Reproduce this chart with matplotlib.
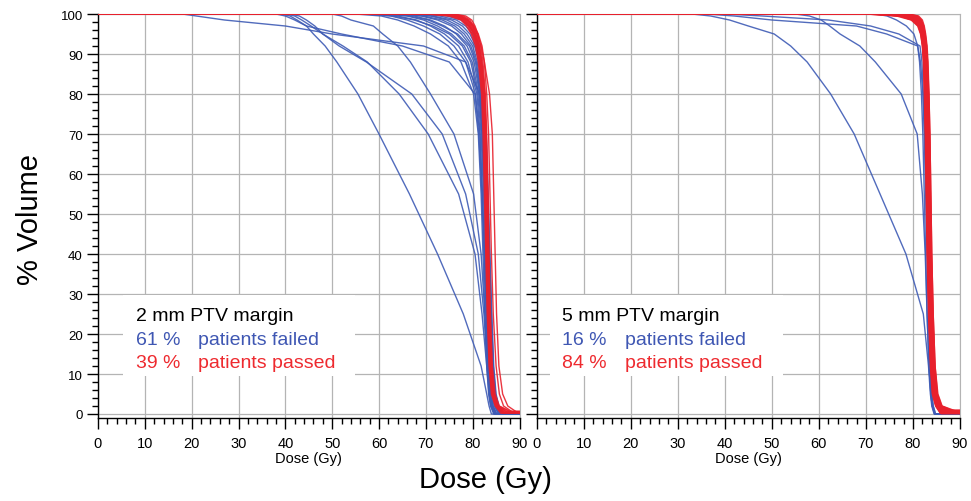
"""DVH comparison: 2 mm vs 5 mm PTV margin, failed (blue) vs passed (red) patients."""
import matplotlib
matplotlib.use("Agg")
import matplotlib.pyplot as plt
from matplotlib.patches import Rectangle
from matplotlib.ticker import MultipleLocator

plt.rcParams["font.family"] = ["Liberation Sans", "DejaVu Sans"]

BLUE = "#3e5bb5"
RED = "#e8202c"
BLUE_TXT = "#3f57b3"
RED_TXT = "#ee2a2f"
NARROW = ["Liberation Sans Narrow", "Liberation Sans", "DejaVu Sans"]

VOL_LEVELS = [100, 99.5, 98.5, 97, 95, 92, 88, 80, 70, 55, 40, 25, 12, 5, 2]

# ---- 2 mm margin: failed patients (dose in Gy at each VOL_LEVEL)
LEFT_BLUE_DOSE = [
    [39, 41.0, 42.5, 44.5, 46.0, 48.5, 51.0, 55.5, 60.0, 66.5, 72.5, 78.0, 81.8, 83.0, 83.5],
    [18, 21.0, 27.0, 40.0, 50.0, 69.5, 78.5, 81.5, 82.0, 82.5, 83.0, 83.3, 83.7, 84.0, 84.3],
    [38, 40.0, 42.0, 44.5, 52.0, 65.0, 75.0, 80.5, 81.3, 82.0, 82.6, 83.0, 83.4, 83.8, 84.2],
    [50, 52.0, 54.0, 58.8, 60.8, 64.0, 66.7, 71.0, 76.0, 80.2, 81.8, 82.6, 83.2, 83.7, 84.2],
    [40, 42.0, 43.5, 45.5, 48.0, 51.5, 57.3, 67.0, 73.5, 78.5, 81.2, 82.4, 83.1, 83.6, 84.0],
    [41, 43.0, 44.5, 46.3, 48.0, 52.3, 57.5, 64.3, 70.5, 77.0, 80.5, 82.0, 83.0, 83.5, 83.9],
    [55, 60.5, 64.0, 67.5, 71.0, 74.8, 77.5, 80.2, 81.2, 81.8, 82.2, 82.6, 83.0, 83.4, 83.8],
    [58, 62.5, 66.0, 69.5, 73.0, 76.0, 78.5, 80.6, 81.5, 82.0, 82.4, 82.8, 83.2, 83.6, 84.0],
    [60, 64.0, 68.0, 71.0, 74.0, 77.0, 79.0, 80.9, 81.6, 82.1, 82.5, 82.9, 83.3, 83.7, 84.1],
    [57, 63.0, 67.5, 71.5, 75.0, 77.8, 79.6, 81.1, 81.8, 82.3, 82.7, 83.1, 83.5, 83.9, 84.4],
    [62, 66.0, 69.5, 72.5, 75.5, 78.2, 79.9, 81.3, 82.0, 82.5, 82.9, 83.3, 83.7, 84.1, 84.6],
    [63, 67.5, 71.0, 74.0, 76.5, 78.8, 80.3, 81.5, 82.1, 82.6, 83.0, 83.4, 83.8, 84.2, 84.8],
    [61, 66.5, 70.5, 73.5, 76.8, 79.3, 80.6, 81.6, 82.2, 82.7, 83.1, 83.5, 83.9, 84.3, 84.9],
    [65, 69.0, 72.5, 75.5, 77.6, 79.6, 80.8, 81.7, 82.3, 82.8, 83.2, 83.6, 84.0, 84.4, 85.0],
    [64, 69.5, 73.5, 76.2, 78.2, 80.0, 81.0, 81.8, 82.4, 82.9, 83.3, 83.7, 84.1, 84.6, 85.2],
    [67, 71.0, 74.5, 77.0, 78.8, 80.4, 81.3, 82.0, 82.5, 83.0, 83.4, 83.8, 84.2, 84.7, 85.3],
    [66, 71.5, 75.5, 77.8, 79.4, 80.7, 81.5, 82.1, 82.6, 83.1, 83.5, 83.9, 84.3, 84.8, 85.4],
    [69, 73.0, 76.5, 78.5, 80.0, 81.0, 81.7, 82.3, 82.8, 83.2, 83.6, 84.0, 84.4, 84.9, 85.5],
    [70, 74.5, 77.5, 79.2, 80.4, 81.3, 81.9, 82.4, 82.9, 83.3, 83.7, 84.1, 84.5, 85.0, 85.6],
]
LEFT_BLUE_END = [84.0, 85.0, 85.0, 85.0, 84.8, 84.6, 84.5, 84.8, 85.0, 85.2, 85.5,
                 85.6, 85.8, 86.0, 86.0, 86.2, 86.4, 86.5, 86.6]
LEFT_BLUE_TAIL = [0.0] * 19

# ---- 2 mm margin: passed patients
LEFT_RED_DOSE = [
    [72, 76.0, 78.0, 79.2, 80.2, 81.0, 81.6, 82.2, 82.5, 82.8, 83.0, 83.3, 83.7, 84.2, 85.0],
    [74, 77.2, 78.8, 79.8, 80.6, 81.3, 81.8, 82.4, 82.7, 83.0, 83.2, 83.5, 83.9, 84.4, 85.3],
    [70, 75.0, 77.5, 78.7, 79.7, 80.6, 81.2, 81.9, 82.2, 82.5, 82.8, 83.1, 83.5, 84.0, 84.8],
    [75, 78.0, 79.4, 80.2, 80.9, 81.5, 82.0, 82.6, 82.9, 83.2, 83.4, 83.7, 84.1, 84.6, 85.5],
    [73, 76.6, 78.4, 79.5, 80.4, 81.1, 81.7, 82.3, 82.6, 82.9, 83.1, 83.4, 83.8, 84.3, 85.1],
    [71, 75.5, 77.8, 79.0, 79.9, 80.8, 81.4, 82.0, 82.4, 82.7, 82.9, 83.2, 83.6, 84.1, 84.9],
    [76, 78.5, 79.8, 80.5, 81.1, 81.7, 82.2, 82.7, 83.0, 83.3, 83.5, 83.8, 84.2, 84.8, 85.7],
    [72, 76.3, 78.2, 79.3, 80.3, 81.0, 81.6, 82.2, 82.5, 82.8, 83.0, 83.3, 83.7, 84.2, 85.0],
    [74, 77.5, 79.0, 80.0, 80.7, 81.4, 81.9, 82.5, 82.8, 83.1, 83.3, 83.6, 84.0, 84.5, 85.4],
    [73, 76.8, 78.6, 79.6, 80.5, 81.2, 81.8, 82.4, 82.7, 83.0, 83.2, 83.5, 83.9, 84.3, 85.2],
    [74, 77.0, 79.0, 80.0, 81.0, 81.8, 82.5, 83.6, 84.2, 84.5, 84.8, 85.1, 85.6, 86.4, 87.5],
    [75, 77.5, 79.0, 80.3, 81.2, 82.0, 82.5, 83.0, 83.4, 83.7, 84.0, 84.4, 85.0, 85.7, 86.6],
]
LEFT_RED_END = [86.8, 87.2, 86.0, 87.8, 86.5, 86.2, 88.0, 86.6, 87.4, 86.9, 89.5, 88.5]
LEFT_RED_TAIL = [0.4, 0.5, 0.2, 0.6, 0.3, 0.3, 0.7, 0.4, 0.5, 0.4, 0.4, 0.5]

# ---- 5 mm margin: failed patients
RIGHT_BLUE_DOSE = [
    [33, 37.0, 41.0, 45.0, 50.5, 54.0, 57.5, 62.5, 67.5, 73.0, 78.5, 82.2, 83.3, 83.7, 84.0],
    [55, 58.0, 60.5, 62.3, 64.5, 68.7, 72.0, 77.5, 80.9, 82.0, 82.6, 83.0, 83.4, 83.8, 84.1],
    [36, 42.0, 50.0, 68.0, 74.4, 81.0, 81.4, 81.8, 82.1, 82.4, 82.7, 83.0, 83.4, 83.8, 84.1],
    [40, 48.0, 62.0, 71.0, 77.0, 81.5, 81.9, 82.2, 82.5, 82.8, 83.1, 83.4, 83.7, 84.0, 84.3],
    [72, 74.5, 76.5, 78.6, 80.2, 81.0, 81.6, 82.1, 82.4, 82.7, 83.0, 83.3, 83.6, 84.0, 84.3],
]
RIGHT_BLUE_END = [84.5, 84.6, 84.6, 84.8, 84.8]
RIGHT_BLUE_TAIL = [0.0] * 5

# ---- 5 mm margin: passed patients
RIGHT_RED_DOSE = [
    [74, 78.5, 80.6, 81.5, 82.0, 82.4, 82.6, 82.9, 83.1, 83.3, 83.5, 83.8, 84.2, 84.7, 85.6],
    [76, 79.8, 81.2, 81.9, 82.3, 82.6, 82.8, 83.0, 83.2, 83.4, 83.6, 83.9, 84.3, 84.8, 85.9],
    [72, 77.5, 80.0, 81.2, 81.8, 82.1, 82.3, 82.5, 82.7, 82.9, 83.1, 83.4, 83.8, 84.3, 85.0],
    [78, 80.5, 81.5, 82.1, 82.5, 82.8, 83.0, 83.2, 83.4, 83.6, 83.8, 84.1, 84.4, 84.9, 85.8],
    [70, 76.5, 79.6, 81.0, 81.6, 82.0, 82.2, 82.4, 82.6, 82.8, 83.0, 83.3, 83.7, 84.1, 84.8],
    [75, 79.0, 80.9, 81.7, 82.1, 82.4, 82.6, 82.8, 83.0, 83.2, 83.4, 83.7, 84.1, 84.6, 85.3],
    [77, 80.2, 81.4, 82.0, 82.4, 82.7, 82.9, 83.1, 83.3, 83.5, 83.7, 84.0, 84.5, 85.0, 86.0],
    [73, 78.0, 80.3, 81.3, 81.9, 82.2, 82.4, 82.7, 82.9, 83.1, 83.3, 83.6, 84.0, 84.4, 85.2],
    [79, 81.0, 81.8, 82.3, 82.6, 82.9, 83.1, 83.3, 83.5, 83.7, 83.9, 84.2, 84.6, 85.1, 85.9],
    [71, 77.0, 79.8, 81.1, 81.7, 82.0, 82.3, 82.6, 82.8, 83.0, 83.2, 83.5, 83.9, 84.3, 85.0],
    [76, 79.5, 81.0, 81.8, 82.2, 82.5, 82.7, 83.0, 83.2, 83.4, 83.6, 83.9, 84.3, 84.8, 85.5],
    [74, 78.8, 80.8, 81.6, 82.0, 82.3, 82.5, 82.7, 82.9, 83.1, 83.3, 83.5, 83.9, 84.4, 85.1],
    [78, 80.6, 81.6, 82.2, 82.6, 82.9, 83.1, 83.4, 83.6, 83.8, 84.0, 84.3, 84.7, 85.3, 86.2],
    [72, 77.8, 80.2, 81.3, 81.8, 82.1, 82.4, 82.6, 82.8, 83.0, 83.2, 83.4, 83.8, 84.2, 84.9],
    [75, 79.2, 81.0, 81.7, 82.1, 82.4, 82.6, 82.8, 83.0, 83.3, 83.5, 83.8, 84.2, 84.6, 85.4],
    [77, 80.0, 81.3, 82.0, 82.4, 82.7, 82.9, 83.2, 83.4, 83.6, 83.8, 84.1, 84.5, 85.0, 85.7],
    [73, 78.2, 80.4, 81.4, 81.9, 82.3, 82.5, 82.7, 82.9, 83.1, 83.3, 83.6, 84.0, 84.5, 85.3],
    [79, 81.2, 82.0, 82.4, 82.7, 83.0, 83.2, 83.4, 83.6, 83.8, 84.0, 84.3, 84.7, 85.2, 86.1],
    [70, 77.2, 79.9, 81.2, 81.7, 82.1, 82.3, 82.5, 82.7, 82.9, 83.1, 83.4, 83.8, 84.2, 84.9],
    [76, 79.6, 81.1, 81.8, 82.3, 82.6, 82.8, 83.0, 83.2, 83.4, 83.6, 83.9, 84.3, 84.8, 85.6],
    [74, 78.6, 80.7, 81.6, 82.0, 82.3, 82.5, 82.8, 83.0, 83.2, 83.4, 83.7, 84.1, 84.5, 85.2],
    [78, 80.8, 81.7, 82.2, 82.5, 82.8, 83.0, 83.3, 83.5, 83.7, 83.9, 84.2, 84.6, 85.1, 85.8],
    [72, 77.6, 80.1, 81.3, 81.8, 82.2, 82.4, 82.6, 82.8, 83.0, 83.2, 83.5, 83.9, 84.3, 85.0],
    [75, 79.3, 80.9, 81.7, 82.2, 82.5, 82.7, 82.9, 83.1, 83.3, 83.5, 83.8, 84.2, 84.7, 85.4],
    [77, 80.1, 81.4, 82.0, 82.4, 82.7, 82.9, 83.1, 83.3, 83.5, 83.7, 84.0, 84.4, 84.9, 85.7],
    [73, 78.3, 80.5, 81.5, 82.0, 82.3, 82.5, 82.8, 83.0, 83.2, 83.4, 83.7, 84.1, 84.6, 85.4],
]
RIGHT_RED_END = [87.0, 87.5, 86.2, 87.8, 85.8, 86.8, 88.5, 86.5, 88.0, 86.0, 87.2, 86.4, 89.0,
                 85.9, 86.9, 87.6, 86.6, 88.8, 86.0, 87.3, 86.7, 88.2, 86.1, 87.0, 87.9, 86.8]
RIGHT_RED_TAIL = [0.6, 0.8, 0.3, 0.4, 0.2, 0.5, 0.7, 0.3, 0.6, 0.1, 0.4, 0.2, 0.8,
                  0.1, 0.5, 0.6, 0.3, 0.7, 0.2, 0.5, 0.4, 0.6, 0.2, 0.3, 0.7, 1.0]

MARGIN_LABELS = ["2 mm PTV margin", "5 mm PTV margin"]
FAILED_PCT = ["61 %", "16 %"]
PASSED_PCT = ["39 %", "84 %"]
X_TICKS = list(range(0, 91, 10))
Y_TICKS = list(range(0, 101, 10))


def draw_curves(ax, doses, ends, tails, color):
    for row, end, tail in zip(doses, ends, tails):
        xs = [0] + row + [end, 90]
        ys = [100] + VOL_LEVELS + [tail, tail]
        ax.plot(xs, ys, color=color, lw=1.0, alpha=0.9, solid_joinstyle="round",
                zorder=3)


def style_axes(ax, show_ylabels):
    ax.set_xlim(0, 90)
    ax.set_ylim(-1, 100)
    ax.set_xticks(X_TICKS)
    ax.set_yticks(Y_TICKS)
    ax.xaxis.set_minor_locator(MultipleLocator(2))
    ax.yaxis.set_minor_locator(MultipleLocator(2))
    ax.grid(True, which="major", color="#b4b4b4", lw=0.9)
    ax.set_axisbelow(True)
    ax.tick_params(axis="x", which="major", length=8, width=1, pad=5, labelsize=10.5)
    ax.tick_params(axis="x", which="minor", length=4, width=1)
    ax.tick_params(axis="y", which="major", length=8, width=1, pad=3, labelsize=9.5)
    ax.tick_params(axis="y", which="minor", length=4, width=1)
    if not show_ylabels:
        ax.tick_params(axis="y", labelleft=False)
    for lbl in ax.get_xticklabels():
        lbl.set_fontfamily(NARROW)
    for side in ("top", "right"):
        ax.spines[side].set_color("#b4b4b4")
    for side in ("left", "bottom"):
        ax.spines[side].set_color("black")
        ax.spines[side].set_linewidth(1.0)
    ax.set_xlabel("Dose (Gy)", fontsize=10.5, family=NARROW, labelpad=1)


def draw_legend(ax, box_x0, text_x0, text_x1, title, failed, passed):
    ax.add_patch(Rectangle((box_x0, 9.5), 49.5, 20.3, facecolor="white",
                           edgecolor="none", zorder=1))
    ax.text(text_x0, 23.5, title, fontsize=14, color="black", zorder=4)
    ax.text(text_x0, 17.5, failed, fontsize=14, color=BLUE_TXT, zorder=4)
    ax.text(text_x1, 17.5, "patients failed", fontsize=14, color=BLUE_TXT, zorder=4)
    ax.text(text_x0, 11.8, passed, fontsize=14, color=RED_TXT, zorder=4)
    ax.text(text_x1, 11.8, "patients passed", fontsize=14, color=RED_TXT, zorder=4)


fig = plt.figure(figsize=(9.71, 5.02), dpi=100)
ax_left = fig.add_axes([98 / 971, 83 / 502, 421.5 / 971, 404 / 502])
ax_right = fig.add_axes([536.7 / 971, 83 / 502, 423.3 / 971, 404 / 502])

style_axes(ax_left, True)
style_axes(ax_right, False)

draw_legend(ax_left, 5.3, 8.1, 21.4, MARGIN_LABELS[0], FAILED_PCT[0], PASSED_PCT[0])
draw_legend(ax_right, 2.8, 5.3, 18.8, MARGIN_LABELS[1], FAILED_PCT[1], PASSED_PCT[1])

draw_curves(ax_left, LEFT_BLUE_DOSE, LEFT_BLUE_END, LEFT_BLUE_TAIL, BLUE)
draw_curves(ax_left, LEFT_RED_DOSE, LEFT_RED_END, LEFT_RED_TAIL, RED)
draw_curves(ax_right, RIGHT_BLUE_DOSE, RIGHT_BLUE_END, RIGHT_BLUE_TAIL, BLUE)
draw_curves(ax_right, RIGHT_RED_DOSE, RIGHT_RED_END, RIGHT_RED_TAIL, RED)

fig.text(0.4995, 0.044, "Dose (Gy)", fontsize=21, ha="center", va="center")
fig.text(0.031, 0.562, "% Volume", fontsize=21, ha="center", va="center", rotation=90)

fig.savefig("out.png", dpi=100)
